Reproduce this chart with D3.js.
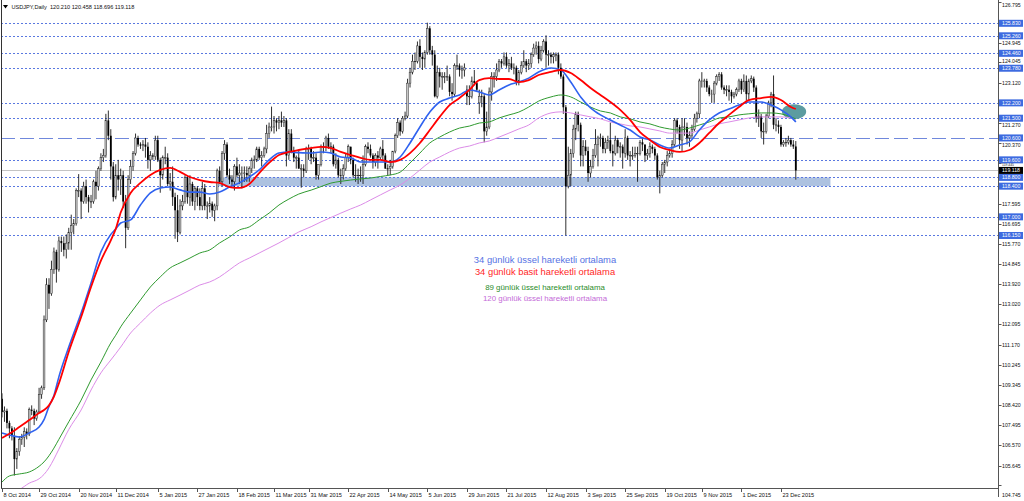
<!DOCTYPE html>
<html><head><meta charset="utf-8">
<script src="https://cdn.jsdelivr.net/npm/d3@7"></script>
<style>body{margin:0;background:#fff;overflow:hidden}svg{display:block}</style>
</head><body>
<svg id="chart" width="1024" height="501"></svg>
<script>
// ---------- DATA ----------
const symbolTitle = "USDJPY,Daily  120.210 120.458 118.696 119.118";
const startDate = "2014-10-08", endDate = "2016-01-04";
const holidays = ["2015-12-25", "2016-01-01"];
// daily candles [open, high, low, close]
const candles = [
// Oct 2014
[108.70,108.95,107.85,108.10],[108.10,108.35,107.65,108.15],[108.15,108.25,107.35,107.60],[107.60,107.70,106.90,107.35],[107.35,107.45,106.80,107.00],
[107.00,107.40,105.20,105.95],[105.95,106.45,105.50,106.30],[106.30,107.00,106.10,106.85],[106.85,107.10,106.60,106.95],[106.95,107.40,106.50,107.20],
[107.20,107.35,106.85,107.10],[107.10,108.30,107.00,108.20],[108.20,108.40,107.95,108.15],[108.15,108.25,107.50,107.80],[107.80,108.20,107.70,108.10],
[108.10,109.20,108.05,108.90],[108.90,109.30,108.70,109.20],[109.20,112.50,109.10,112.30],
// Nov 2014
[112.30,114.20,112.20,113.90],[113.90,114.20,112.80,113.50],[113.50,115.00,113.40,114.60],[114.60,115.60,114.40,115.40],[115.40,115.50,114.00,114.60],
[114.60,116.10,114.50,115.90],[115.90,116.10,115.40,115.80],[115.80,116.10,115.20,115.50],[115.50,116.20,115.10,115.80],[115.80,116.50,115.50,116.30],
[116.30,117.10,115.50,116.60],[116.60,116.90,116.20,116.70],[116.70,118.30,116.60,118.20],[118.20,118.95,117.90,118.20],[118.20,118.30,116.90,117.70],
[117.70,118.60,117.60,118.40],[118.40,118.70,117.60,117.90],[117.90,118.00,117.20,117.70],[117.70,118.00,117.40,117.70],[117.70,118.70,117.60,118.60],
// Dec 2014
[118.60,119.10,117.80,118.40],[118.40,119.30,118.20,119.20],[119.20,119.90,119.10,119.70],[119.70,120.10,119.50,119.80],[119.80,121.70,119.70,121.40],
[121.40,121.85,120.50,120.70],[120.70,121.00,118.70,119.30],[119.30,119.50,117.70,117.90],[117.90,119.40,117.80,118.90],[118.90,119.60,118.20,118.70],
[118.70,119.20,118.00,118.90],[118.90,119.10,117.40,117.70],[117.70,118.00,115.57,116.50],[116.50,118.90,116.40,118.70],[118.70,119.60,118.50,119.30],
[119.30,120.00,119.10,119.90],[119.90,120.80,119.80,120.60],[120.60,120.70,120.20,120.30],[120.30,120.40,120.10,120.25],[120.25,120.50,120.00,120.30],
[120.30,120.60,119.70,120.20],[120.20,120.40,119.20,119.60],[119.60,120.00,119.10,119.80],
// Jan 2015
[119.80,119.90,119.60,119.75],[119.75,120.70,119.60,120.50],[120.50,120.70,119.50,119.60],[119.60,119.70,118.10,118.90],[118.90,119.80,118.70,119.70],
[119.70,120.20,119.40,119.70],[119.70,119.90,118.40,118.50],[118.50,119.00,118.20,118.60],[118.60,119.30,117.50,117.90],[117.90,118.10,116.00,117.30],
[117.30,118.00,115.85,116.30],[116.30,117.80,116.20,117.50],[117.50,118.00,117.30,117.70],[117.70,118.90,117.60,118.80],[118.80,118.90,117.60,117.90],
[117.90,118.90,117.50,118.50],[118.50,118.60,117.50,117.70],[117.70,118.40,117.30,118.30],[118.30,118.40,117.50,117.90],[117.90,118.30,117.30,117.50],
[117.50,118.60,117.30,118.30],[118.30,118.50,117.30,117.50],
// Feb 2015
[117.50,117.70,116.90,117.50],[117.50,117.90,117.20,117.60],[117.60,117.70,117.00,117.30],[117.30,117.60,116.80,117.50],[117.50,119.20,117.30,119.10],
[119.10,119.30,118.50,118.60],[118.60,120.00,118.40,119.90],[119.90,120.50,119.60,120.30],[120.30,120.40,118.80,118.90],[118.90,119.20,118.50,118.70],
[118.70,118.90,118.40,118.60],[118.60,119.40,118.20,119.30],[119.30,119.70,118.80,118.90],[118.90,119.40,118.50,119.00],[119.00,119.30,118.30,119.00],
[119.00,119.30,118.60,119.00],[119.00,119.30,118.60,118.90],[118.90,119.30,118.60,119.20],[119.20,119.70,119.00,119.60],[119.60,119.80,119.20,119.60],
// Mar 2015
[119.60,120.20,119.50,120.10],[120.10,120.20,119.60,119.70],[119.70,120.00,119.30,119.80],[119.80,120.20,119.70,120.10],[120.10,121.20,119.90,120.80],
[120.80,121.30,120.60,121.10],[121.10,122.03,120.90,121.10],[121.10,121.60,120.80,121.40],[121.40,121.50,120.90,121.30],[121.30,121.60,121.00,121.40],
[121.40,121.80,121.10,121.30],[121.30,121.60,121.10,121.40],[121.40,121.50,119.30,119.80],[119.80,121.00,119.60,120.80],[120.80,121.00,119.90,120.00],
[120.00,120.20,119.50,119.70],[119.70,119.80,119.20,119.70],[119.70,120.00,119.20,119.20],[119.20,119.40,118.33,119.20],[119.20,119.40,118.80,119.10],
[119.10,120.20,119.00,120.10],[120.10,120.30,119.60,120.10],
// Apr 2015
[120.10,120.20,119.40,119.70],[119.70,120.00,119.50,119.70],[119.70,119.90,118.70,118.90],[118.90,119.40,118.70,119.40],[119.40,120.30,119.30,120.20],
[120.20,120.40,119.90,120.20],[120.20,120.70,120.00,120.60],[120.60,120.80,120.10,120.20],[120.20,120.40,119.90,120.20],[120.20,120.30,119.30,119.40],
[119.40,119.90,119.20,119.60],[119.60,119.70,118.80,118.90],[118.90,119.20,118.50,118.90],[118.90,119.40,118.70,119.20],[119.20,119.90,119.10,119.70],
[119.70,120.30,119.50,120.20],[120.20,120.20,119.40,119.60],[119.60,119.70,118.80,118.90],[118.90,119.40,118.60,118.90],[118.90,119.20,118.50,118.90],
[118.90,119.30,118.60,118.90],[118.90,119.80,118.50,119.40],
// May 2015
[119.40,120.30,119.30,120.20],[120.20,120.40,119.90,120.10],[120.10,120.30,119.70,119.80],[119.80,119.90,119.20,119.50],[119.50,119.90,119.30,119.80],
[119.80,120.00,119.20,119.70],[119.70,120.20,119.60,120.10],[120.10,120.50,119.60,119.80],[119.80,119.90,119.20,119.20],[119.20,119.40,118.90,119.20],
[119.20,119.60,118.90,119.30],[119.30,120.00,119.20,120.00],[120.00,120.80,119.90,120.70],[120.70,121.50,120.60,121.30],[121.30,121.40,120.70,120.90],
[120.90,121.60,120.80,121.50],[121.50,121.80,121.40,121.60],[121.60,123.30,121.50,123.10],[123.10,123.80,122.90,123.60],[123.60,124.40,123.50,124.10],
[124.10,124.50,123.70,124.10],
// Jun 2015
[124.10,125.00,124.00,124.80],[124.80,125.10,123.80,124.30],[124.30,124.50,123.70,124.20],[124.20,124.60,123.80,124.50],[124.50,125.86,124.40,125.60],
[125.60,125.70,124.40,124.60],[124.60,124.80,123.90,124.40],[124.40,124.60,122.45,122.50],[122.50,123.90,122.40,123.60],[123.60,123.80,122.90,123.40],
[123.40,123.60,122.80,123.40],[123.40,123.60,123.10,123.40],[123.40,123.90,123.20,123.40],[123.40,123.50,122.50,122.70],[122.70,123.10,122.30,122.60],
[122.60,124.00,122.50,123.90],[123.90,124.40,123.70,123.90],[123.90,124.00,123.40,123.70],[123.70,123.90,123.30,123.70],[123.70,124.00,123.40,123.80],
[122.80,123.00,122.10,122.50],[122.50,123.00,122.10,122.50],
// Jul 2015
[122.50,123.40,122.40,123.20],[123.20,123.70,123.00,123.10],[123.10,123.20,122.70,122.80],[122.20,122.80,121.70,122.50],[122.50,122.80,122.00,122.50],
[122.50,122.60,120.40,120.90],[120.90,121.80,120.70,121.10],[121.10,122.90,121.00,122.70],[122.70,123.60,122.30,123.40],[123.40,123.60,122.90,123.40],
[123.40,124.00,123.20,123.70],[123.70,124.20,123.60,124.10],[124.10,124.20,123.80,124.00],[124.00,124.50,123.90,124.30],[124.30,124.50,123.80,123.90],
[123.90,124.20,123.60,124.00],[124.00,124.30,123.70,123.80],[123.80,124.00,123.50,123.80],[123.80,123.90,123.00,123.20],[123.20,123.70,123.00,123.60],
[123.60,124.10,123.50,123.90],[123.90,124.60,123.80,124.10],[124.10,124.20,123.60,123.90],
// Aug 2015
[123.90,124.20,123.70,124.00],[124.00,124.50,123.80,124.40],[124.40,124.90,124.30,124.70],[124.70,125.00,124.40,124.80],[124.80,125.00,124.00,124.20],
[124.20,124.80,124.10,124.60],[124.60,125.10,124.50,125.00],[125.00,125.28,123.80,124.40],[124.40,124.60,123.90,124.40],[124.40,124.50,124.00,124.30],
[124.30,124.50,124.00,124.40],[124.40,124.50,124.10,124.40],[124.40,124.50,123.50,123.80],[123.80,124.00,123.30,123.40],[123.40,123.50,121.70,122.00],
[122.00,122.10,116.15,118.40],[118.40,120.20,118.30,118.90],[118.90,120.10,118.40,119.90],[119.90,121.20,119.70,121.00],[121.00,121.80,120.50,121.70],
[121.70,121.80,120.90,121.20],
// Sep 2015
[121.20,121.30,119.30,119.80],[119.80,120.50,119.30,120.20],[120.20,120.50,119.80,120.00],[120.00,120.20,118.60,119.00],[119.00,119.60,118.80,119.30],
[119.30,120.10,119.20,119.80],[119.80,121.00,119.70,120.30],[120.30,120.70,119.30,120.60],[120.60,120.80,120.20,120.60],[120.60,120.70,119.90,120.10],
[120.10,120.60,119.90,120.40],[120.40,120.70,120.10,120.50],[120.50,121.30,119.90,120.00],[120.00,120.30,119.30,119.90],[119.90,120.70,119.80,120.50],
[120.50,120.60,119.90,120.20],[120.20,120.40,119.70,120.20],[120.20,120.30,119.20,119.90],[119.90,121.00,119.70,120.60],[120.60,120.70,119.60,119.80],
[119.80,120.00,119.30,119.80],[119.80,120.20,119.60,119.80],
// Oct 2015
[119.80,120.20,119.70,119.90],[119.90,120.20,118.60,119.90],[119.90,120.50,119.80,120.40],[120.40,120.60,120.00,120.30],[120.30,120.30,119.50,119.80],
[119.80,120.10,119.60,119.90],[119.90,120.40,119.70,120.20],[120.20,120.30,119.90,120.10],[120.10,120.20,119.60,119.80],[119.80,119.90,118.70,118.80],
[118.80,119.10,118.07,118.90],[118.90,119.50,118.80,119.40],[119.40,119.60,119.00,119.50],[119.50,120.00,119.30,119.80],[119.80,120.10,119.70,119.90],
[119.90,120.50,119.70,120.30],[120.30,121.50,120.20,121.40],[121.40,121.50,120.80,121.10],[121.10,121.20,120.10,120.50],[120.50,121.50,120.00,121.10],
[121.10,121.50,120.70,121.10],[121.10,121.30,120.30,120.60],
// Nov 2015
[120.60,120.90,120.20,120.70],[120.70,121.20,120.60,121.00],[121.00,121.70,120.90,121.50],[121.50,121.80,121.30,121.70],[121.70,123.30,121.50,123.20],
[123.20,123.60,122.90,123.20],[123.20,123.30,122.90,123.20],[123.20,123.30,122.70,122.90],[122.90,123.00,122.50,122.60],[122.60,122.80,122.20,122.60],
[122.60,123.20,122.20,123.10],[123.10,123.50,123.00,123.40],[123.40,123.60,123.20,123.50],[123.50,123.60,122.80,122.90],[122.90,123.00,122.60,122.80],
[122.80,123.00,122.50,122.80],[122.80,123.00,122.30,122.70],[122.70,122.80,122.20,122.50],[122.50,122.70,122.40,122.60],[122.60,122.90,122.50,122.80],
[122.80,123.30,122.70,123.20],
// Dec 2015
[123.20,123.30,122.60,122.80],[122.80,123.50,122.70,123.20],[123.20,123.45,122.30,122.60],[122.60,123.30,122.30,123.20],[123.20,123.45,123.10,123.30],
[123.30,123.40,122.70,122.90],[122.90,123.00,121.30,121.50],[121.50,121.90,121.10,121.60],[121.60,121.70,120.60,120.90],[120.90,121.30,120.30,120.90],
[120.90,121.70,120.80,121.60],[121.60,122.30,121.50,122.20],[122.20,122.70,122.00,122.60],[122.60,123.45,121.00,121.20],[121.20,121.50,120.90,121.20],
[121.20,121.40,120.80,121.10],[121.10,121.20,120.20,120.30],[120.30,120.50,120.20,120.40],[120.40,120.60,120.20,120.40],[120.40,120.70,120.30,120.50],
[120.50,120.60,120.20,120.30],[120.30,120.50,120.10,120.21],
// Jan 2016
[120.21,120.458,118.696,119.118]
];

// moving averages at these bar numbers
const maBars = [0,3,7,11,15,17,19,21,23,27,32,36,40,44,46,48,52,56,60,64,68,72,76,80,84,88,92,96,100,104,108,112,116,120,125,129,133,137,141,145,149,153,157,161,165,169,173,177,181,185,189,193,197,201,205,209,213,217,222,226,230,234,238,242,246,250,254,258,262,266,270,274,278,282,286,290,294,298,302,307,311,315,319,321];
const ema34 = [107.14,107.05,106.96,107.14,107.41,107.75,108.35,108.85,109.70,111.06,112.61,113.98,115.40,116.20,116.45,116.72,116.86,117.54,118.09,118.32,118.36,118.23,118.13,118.13,118.04,118.13,118.36,118.55,118.82,119.14,119.60,119.91,119.96,119.93,119.91,119.96,119.91,119.73,119.69,119.50,119.50,119.50,119.50,119.73,120.37,121.10,121.78,122.24,122.42,122.56,122.79,122.70,122.56,122.79,123.02,123.15,123.33,123.61,123.79,123.70,123.15,122.47,121.97,121.65,121.42,121.19,120.96,120.64,120.51,120.28,120.14,120.28,120.42,120.96,121.42,121.74,121.92,122.10,122.24,122.24,122.10,121.88,121.56,121.33];
const sma34 = [106.91,107.10,107.41,107.73,108.05,108.19,108.40,108.80,109.40,110.85,112.43,113.80,115.00,115.93,116.45,117.20,118.09,118.55,118.91,119.14,119.23,119.05,118.82,118.68,118.59,118.55,118.36,118.32,118.50,119.00,119.46,119.82,119.96,120.05,120.14,120.19,120.14,119.96,119.82,119.69,119.60,119.60,119.50,119.60,119.91,120.37,120.96,121.56,122.10,122.42,122.79,123.24,123.33,123.29,123.29,123.15,123.24,123.47,123.61,123.70,123.56,123.24,122.88,122.56,122.24,121.88,121.42,120.87,120.51,120.19,120.05,119.96,120.05,120.37,120.83,121.28,121.65,122.01,122.33,122.42,122.47,122.33,122.01,121.92];
const ema89 = [104.90,105.18,105.27,105.36,105.62,105.82,106.10,106.45,106.85,107.65,108.64,109.56,110.38,111.25,111.60,111.98,112.61,113.21,113.80,114.26,114.67,114.90,115.12,115.35,115.49,115.81,116.08,116.40,116.54,116.86,117.17,117.54,117.81,118.04,118.22,118.38,118.54,118.62,118.68,118.73,118.77,118.84,118.91,119.04,119.46,119.91,120.37,120.64,120.87,121.05,121.14,121.28,121.33,121.51,121.65,121.78,122.01,122.28,122.47,122.56,122.47,122.24,122.01,121.83,121.74,121.56,121.47,121.33,121.24,121.10,121.01,120.96,121.05,121.19,121.33,121.51,121.56,121.65,121.70,121.74,121.74,121.70,121.56,121.47];
const ema120 = [104.30,104.42,104.56,104.85,105.05,105.25,105.55,105.95,106.40,107.30,108.19,109.10,109.88,110.47,110.76,111.06,111.70,112.16,112.61,112.98,113.21,113.43,113.66,113.89,114.03,114.26,114.58,114.90,115.12,115.35,115.58,115.81,116.06,116.31,116.55,116.77,116.97,117.17,117.36,117.54,117.77,118.00,118.23,118.45,118.77,119.14,119.50,119.73,119.96,120.14,120.23,120.37,120.46,120.64,120.82,121.01,121.19,121.51,121.74,121.79,121.74,121.65,121.56,121.47,121.33,121.24,121.15,121.10,121.01,120.92,120.82,120.82,120.82,120.96,121.10,121.24,121.33,121.42,121.51,121.56,121.56,121.56,121.51,121.42];

const levels = [125.830,125.260,124.460,123.780,122.200,121.500,120.600,119.600,118.800,118.400,117.000,116.150];
const dashedLevel = 120.600;
const lastPrice = 119.118;
const zoneLow = 118.4, zoneHigh = 118.8, zoneFromBar = 87, zoneToBar = 335;
const markBar = 320.3, markPrice = 121.8, markHalfBars = 4.9, markHalfPrice = 0.34;

const yTickLabels = ["126.795","124.945","124.045","123.120","121.270","120.370","119.445","117.595","116.695","115.770","114.845","113.920","113.020","112.095","111.170","110.245","109.345","108.420","107.495","106.570","105.645","104.745"];
const xTickLabels = ["8 Oct 2014","29 Oct 2014","20 Nov 2014","11 Dec 2014","5 Jan 2015","27 Jan 2015","18 Feb 2015","11 Mar 2015","31 Mar 2015","22 Apr 2015","14 May 2015","5 Jun 2015","29 Jun 2015","21 Jul 2015","12 Aug 2015","3 Sep 2015","25 Sep 2015","19 Oct 2015","9 Nov 2015","1 Dec 2015","23 Dec 2015"];

const legendLines = [
  {text:"34 günlük üssel hareketli ortalama", color:"#5672e4", size:9.4},
  {text:"34 günlük basit hareketli ortalama", color:"#ff1f1f", size:9.4},
  {text:"89 günlük üssel hareketli ortalama", color:"#2a8c2a", size:7.9},
  {text:"120 günlük üssel hareketli ortalama", color:"#c46ad8", size:7.9}
];

// ---------- DRAW ----------
const fmtISO = d3.utcFormat("%Y-%m-%d");
const parseISO = d3.utcParse("%Y-%m-%d");
const parseLbl = d3.utcParse("%d %b %Y");
const dates = d3.utcDays(parseISO(startDate), d3.utcDay.offset(parseISO(endDate), 1))
  .filter(d => d.getUTCDay() % 6 !== 0 && !holidays.includes(fmtISO(d)));
const n = Math.min(dates.length, candles.length);

const plotL = 1, plotR = 998, plotT = 0, plotB = 488;
const font = "'Liberation Sans', Arial, sans-serif";
const axisFont = 5.2, boxH = 7;
const x = d3.scaleLinear().domain([0, 321]).range([2, 795.8]);
const y = d3.scaleLinear().domain([104.63, 126.893]).range([plotB, plotT]);

const svg = d3.select("#chart");
svg.append("rect").attr("width",1024).attr("height",501).attr("fill","#fff");
svg.append("defs").append("clipPath").attr("id","plot")
  .append("rect").attr("x",plotL).attr("y",plotT).attr("width",plotR-plotL).attr("height",plotB-plotT);
const g = svg.append("g").attr("clip-path","url(#plot)");

// zone rectangle
g.append("rect")
  .attr("x", x(zoneFromBar)).attr("width", x(zoneToBar)-x(zoneFromBar))
  .attr("y", y(zoneHigh)).attr("height", y(zoneLow)-y(zoneHigh))
  .attr("fill","#adc2e0");

// last price line
g.append("line").attr("x1",plotL).attr("x2",plotR)
  .attr("y1",Math.round(y(lastPrice))+0.5).attr("y2",Math.round(y(lastPrice))+0.5)
  .attr("stroke","#c4c4c4").attr("stroke-width",1);

// level lines
g.selectAll("line.lvl").data(levels).join("line").attr("class","lvl")
  .attr("x1",plotL).attr("x2",plotR)
  .attr("y1",d=>Math.round(y(d))+0.5).attr("y2",d=>Math.round(y(d))+0.5)
  .attr("stroke", d => d===dashedLevel ? "#7088dc" : "#5a78e0")
  .attr("stroke-width",1)
  .attr("stroke-dasharray", d => d===dashedLevel ? "14,5" : "2,2");

// candles
const cg = g.append("g");
const idx = d3.range(n);
cg.selectAll("line.wick").data(idx).join("line").attr("class","wick")
  .attr("x1",i=>x(i)).attr("x2",i=>x(i))
  .attr("y1",i=>y(candles[i][1])).attr("y2",i=>y(candles[i][2]))
  .attr("stroke","#1a1a1a").attr("stroke-width",0.9);
cg.selectAll("rect.body").data(idx).join("rect").attr("class","body")
  .attr("x",i=>x(i)-0.9).attr("width",1.8)
  .attr("y",i=>y(Math.max(candles[i][0],candles[i][3])))
  .attr("height",i=>Math.max(0.6, Math.abs(y(candles[i][0])-y(candles[i][3]))))
  .attr("fill",i=>candles[i][3]>=candles[i][0] ? "#c8c8c8" : "#000")
  .attr("stroke",i=>candles[i][3]>=candles[i][0] ? "#222" : "none")
  .attr("stroke-width",0.45);

// marker ellipse
g.append("ellipse")
  .attr("cx", x(markBar)).attr("cy", y(markPrice))
  .attr("rx", x(markBar+markHalfBars)-x(markBar))
  .attr("ry", y(markPrice-markHalfPrice)-y(markPrice))
  .attr("fill","#5c9ca0");

// moving averages
const line = vals => d3.line().curve(d3.curveMonotoneX)
  .x((d,k)=>x(maBars[k])).y(d=>y(d))(vals);
const maDefs = [
  {v:ema120, c:"#dc8ce8", w:1},
  {v:ema89, c:"#2f9a2f", w:1},
  {v:ema34, c:"#2f62f0", w:1.6},
  {v:sma34, c:"#ff0000", w:1.8}
];
maDefs.forEach(m => g.append("path").attr("d", line(m.v))
  .attr("fill","none").attr("stroke",m.c).attr("stroke-width",m.w));

// frame
svg.append("line").attr("x1",plotL+0.5).attr("x2",plotL+0.5).attr("y1",plotT).attr("y2",plotB).attr("stroke","#333");
svg.append("line").attr("x1",plotL).attr("x2",plotR+0.5).attr("y1",plotB+0.5).attr("y2",plotB+0.5).attr("stroke","#555");
svg.append("line").attr("x1",plotR+0.5).attr("x2",plotR+0.5).attr("y1",plotT).attr("y2",497).attr("stroke","#555");

// right axis ticks + labels (labels moved clear of the level boxes, squeezed if needed)
const boxYs = levels.concat([lastPrice]).map(b => y(b)).sort((a,b)=>a-b);
const placeLabel = (v,k) => {
  if (k === yTickLabels.length-1) return {yy:495, fs:axisFont};
  let yy = Math.max(5, y(v));
  const clash = boxYs.filter(by => Math.abs(yy-by) < 7);
  if (!clash.length) return {yy, fs:axisFont};
  const by = clash[0];
  let cand = yy >= by ? by + 7 : by - 7;
  const other = boxYs.find(b => b !== by && Math.abs(cand-b) < 7);
  if (other === undefined) return {yy:cand, fs:axisFont};
  // squeeze between two boxes
  return {yy:(by+other)/2, fs:3.4};
};
yTickLabels.forEach((s,k) => {
  const p = placeLabel(+s,k);
  const ty = Math.round(Math.min(y(+s), 495))+0.5;
  svg.append("line").attr("x1",plotR+0.5).attr("x2",plotR+3.5).attr("y1",ty).attr("y2",ty).attr("stroke","#555");
  svg.append("text").attr("x",plotR+4).attr("y",p.yy+p.fs*0.36).text(s)
    .attr("font-family",font).attr("font-size",p.fs).attr("fill","#111");
});

// level price boxes
const lvlBox = (v, bg) => {
  const yy = y(v);
  svg.append("rect").attr("x",plotR+1).attr("y",yy-boxH/2).attr("width",24).attr("height",boxH).attr("fill",bg);
  svg.append("text").attr("x",plotR+4).attr("y",yy+1.9).text(d3.format(".3f")(v))
    .attr("font-family",font).attr("font-size",axisFont).attr("fill","#fff");
};
levels.forEach(v => lvlBox(v, "#3d6be0"));
lvlBox(lastPrice, "#000");

// x axis ticks + labels
xTickLabels.forEach(s => {
  const key = fmtISO(parseLbl(s));
  const i = dates.findIndex(d => fmtISO(d) === key);
  if (i < 0) return;
  const xx = Math.round(x(i))+0.5;
  svg.append("line").attr("x1",xx).attr("x2",xx).attr("y1",plotB).attr("y2",plotB+4).attr("stroke","#555");
  svg.append("text").attr("x",xx+1).attr("y",plotB+8.5).text(s)
    .attr("font-family",font).attr("font-size",5.6).attr("fill","#111");
});

// title
svg.append("path").attr("d","M3,5 L8,5 L5.5,8.5 Z").attr("fill","#000");
svg.append("text").attr("x",11.5).attr("y",9).text(symbolTitle)
  .attr("font-family",font).attr("font-size",5.6).attr("fill","#111").attr("xml:space","preserve");

// legend
const legY = [262.5, 274.5, 290, 301];
legendLines.forEach((l,k) => svg.append("text")
  .attr("x",545).attr("y",legY[k]).attr("text-anchor","middle")
  .attr("font-family",font).attr("font-size",l.size).attr("fill",l.color).text(l.text));
</script>
</body></html>
